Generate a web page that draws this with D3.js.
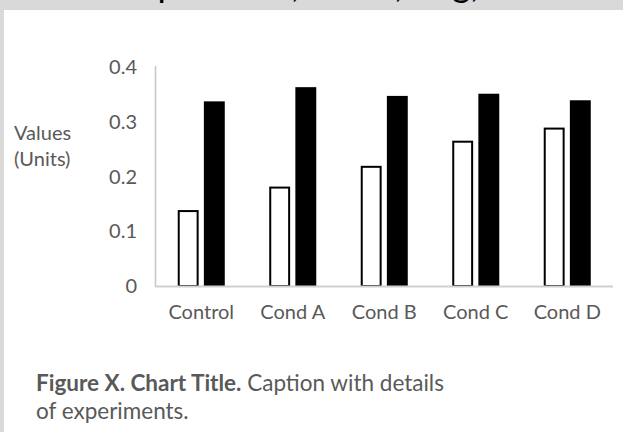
<!DOCTYPE html>
<html>
<head>
<meta charset="utf-8">
<script src="https://cdn.jsdelivr.net/npm/d3@7/dist/d3.min.js"></script>
<style>
  html, body { margin: 0; padding: 0; background: #d9d9d9; overflow: hidden; }
  svg { display: block; }
</style>
</head>
<body>
<svg id="chart" width="623" height="432"></svg>
<script>
const categories = ["Control", "Cond A", "Cond B", "Cond C", "Cond D"];
const seriesNames = ["Series 1", "Series 2"];
const series1 = [0.139, 0.182, 0.220, 0.266, 0.290];
const series2 = [0.338, 0.364, 0.348, 0.352, 0.340];
const yTicks = [0, 0.1, 0.2, 0.3, 0.4];
const yTickLabels = ["0", "0.1", "0.2", "0.3", "0.4"];
const yLabelLines = ["Values", "(Units)"];
const titleText = "Temperature, Value, Avg,";
const captionBold = "Figure X. Chart Title.";
const captionRest = " Caption with details";
const captionLine2 = "of experiments.";

const svg = d3.select("#chart");
const font = "Lato, 'Open Sans', sans-serif";
const textColor = "#595959";

// background panel
svg.append("rect").attr("x", 0).attr("y", 0).attr("width", 623).attr("height", 432).attr("fill", "#d9d9d9");

// title, mostly above the visible area (only descenders show)
svg.append("text")
  .attr("x", 92).attr("y", -3)
  .attr("font-family", font).attr("font-size", 36)
  .attr("fill", "#000")
  .text(titleText);

svg.append("rect").attr("x", 4).attr("y", 10).attr("width", 619).attr("height", 422).attr("fill", "#ffffff");

const x0 = d3.scaleBand().domain(categories).range([155.5, 613]).paddingInner(0.486).paddingOuter(0.243);
const x1 = d3.scaleBand().domain(seriesNames).range([0, x0.bandwidth()]).paddingInner(0.2);
const y = d3.scaleLinear().domain([0, 0.4]).range([286, 67.5]);

const g = svg.append("g");

// y axis tick labels
const yAxis = d3.axisLeft(y).tickValues(yTicks).tickSize(0).tickPadding(0)
  .tickFormat((d, i) => yTickLabels[i]);
const yg = g.append("g").attr("transform", "translate(137,0)").call(yAxis);
yg.select(".domain").remove();
yg.selectAll("text").attr("font-family", font).attr("font-size", 20).attr("fill", textColor);

// y axis line
g.append("line").attr("x1", 155.5).attr("x2", 155.5).attr("y1", 66).attr("y2", 287)
  .attr("stroke", "#c8c8c8").attr("stroke-width", 1.6);

// bars
const data = categories.map((c, i) => ({ cat: c, vals: [series1[i], series2[i]] }));
const groups = g.selectAll(".grp").data(data).join("g")
  .attr("transform", d => `translate(${x0(d.cat)},0)`);

groups.append("rect")
  .attr("x", x1(seriesNames[0]) + 1)
  .attr("width", x1.bandwidth() - 2)
  .attr("y", d => y(d.vals[0]) + 1)
  .attr("height", d => y(0) - y(d.vals[0]) - 1)
  .attr("fill", "#ffffff").attr("stroke", "#000").attr("stroke-width", 2);

groups.append("rect")
  .attr("x", x1(seriesNames[1]))
  .attr("width", x1.bandwidth())
  .attr("y", d => y(d.vals[1]))
  .attr("height", d => y(0) - y(d.vals[1]))
  .attr("fill", "#000");

// x axis line
g.append("line").attr("x1", 155).attr("x2", 613).attr("y1", 286.5).attr("y2", 286.5)
  .attr("stroke", "#d0d0d0").attr("stroke-width", 2);

// x axis labels
const xAxis = d3.axisBottom(x0).tickSize(0).tickPadding(0);
const xg = g.append("g").attr("transform", "translate(0,300)").call(xAxis);
xg.select(".domain").remove();
xg.selectAll("text").attr("font-family", font).attr("font-size", 20).attr("fill", textColor)
  .attr("dy", "0.95em");

// y label
const yl = svg.append("text").attr("font-family", font).attr("font-size", 20).attr("fill", textColor);
yLabelLines.forEach((t, i) => {
  yl.append("tspan").attr("x", 14).attr("y", 140 + i * 26).text(t);
});

// caption
const cap = svg.append("text").attr("font-family", font).attr("font-size", 22.5).attr("fill", textColor)
  .attr("x", 36).attr("y", 391);
cap.append("tspan").attr("font-weight", "bold").text(captionBold);
cap.append("tspan").text(captionRest);
svg.append("text").attr("font-family", font).attr("font-size", 22.5).attr("fill", textColor)
  .attr("x", 36).attr("y", 419).text(captionLine2);
</script>
</body>
</html>
